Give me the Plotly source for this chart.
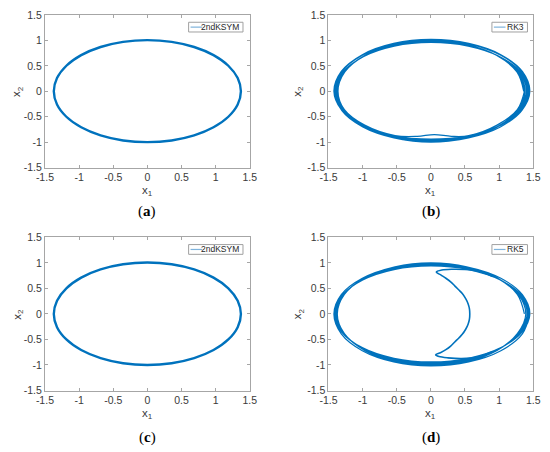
import plotly.graph_objects as go

# ---------------- data ----------------
# (a) / (c): 2ndKSYM closed orbit
ksym_x1 = [1.37, 1.323, 1.186, 0.969, 0.685, 0.355, 0, -0.355, -0.685, -0.969, -1.186, -1.323, -1.37,
           -1.323, -1.186, -0.969, -0.685, -0.355, 0, 0.355, 0.685, 0.969, 1.186, 1.323, 1.37]
ksym_x2 = [0, 0.26, 0.503, 0.712, 0.872, 0.973, 1.007, 0.973, 0.872, 0.712, 0.503, 0.26, 0,
           -0.259, -0.5, -0.707, -0.866, -0.966, -1.0, -0.966, -0.866, -0.707, -0.5, -0.259, 0]

# (b): RK3 drifting orbit (successive loops)
rk3_x1 = [1.36, 1.26, 0.96, 0.52, 0, -0.52, -0.96, -1.26, -1.36, -1.26, -0.96, -0.52, 0, 0.52, 0.96, 1.26,
          1.38, 1.275, 0.976, 0.529, 0, -0.525, -0.969, -1.266, -1.37, -1.266, -0.969, -0.525, 0, 0.529, 0.976, 1.275,
          1.40, 1.294, 0.99, 0.536, 0, -0.529, -0.976, -1.275, -1.38, -1.275, -0.976, -0.529, 0, 0.536, 0.99, 1.294,
          1.415, 1.307, 1.0, 0.542, 0, -0.532, -0.983, -1.284, -1.39, -1.284, -0.983, -0.532, 0, 0.542, 1.0, 1.307,
          1.43, 1.321, 1.011, 0.548, 0, -0.536, -0.99, -1.294, -1.40, -1.294, -0.99, -0.536, 0, 0.548, 1.011, 1.321,
          1.44, 1.331, 1.018, 0.552, 0, -0.54, -0.997, -1.303, -1.41, -1.303, -0.997, -0.54, 0, 0.552, 1.018, 1.331,
          1.45, 1.34, 1.025, 0.555, 0, -0.544, -1.004, -1.312, -1.42, -1.312, -1.004, -0.544, 0, 0.555, 1.025, 1.34,
          1.37, 1.266, 0.969, 0.525, 0, -0.525, -0.969, -1.266, -1.37, -1.266, -0.969, -0.525, -0.2, 0.05, 0.3, 0.55, 0.969, 1.266, 1.37]
rk3_x2 = [0, 0.38, 0.71, 0.92, 1.0, 0.92, 0.71, 0.38, 0, -0.38, -0.71, -0.92, -1.0, -0.92, -0.71, -0.38,
          0, 0.379, 0.70, 0.915, 0.99, 0.915, 0.70, 0.379, 0, -0.375, -0.693, -0.906, -0.98, -0.906, -0.693, -0.375,
          0, 0.375, 0.693, 0.906, 0.98, 0.906, 0.693, 0.375, 0, -0.372, -0.686, -0.896, -0.97, -0.896, -0.686, -0.372,
          0, 0.372, 0.686, 0.896, 0.97, 0.896, 0.686, 0.372, 0, -0.368, -0.679, -0.887, -0.96, -0.887, -0.679, -0.368,
          0, 0.368, 0.679, 0.887, 0.96, 0.887, 0.679, 0.368, 0, -0.364, -0.672, -0.878, -0.95, -0.878, -0.672, -0.364,
          0, 0.387, 0.714, 0.933, 1.01, 0.933, 0.714, 0.387, 0, -0.379, -0.70, -0.915, -0.99, -0.915, -0.70, -0.379,
          0, 0.391, 0.721, 0.942, 1.02, 0.942, 0.721, 0.391, 0, -0.36, -0.665, -0.869, -0.94, -0.869, -0.665, -0.36,
          0, 0.381, 0.703, 0.919, 0.995, 0.919, 0.703, 0.381, 0, -0.36, -0.665, -0.87, -0.885, -0.85, -0.885, -0.875, -0.665, -0.36, 0]

# (d): RK5 drifting orbit (successive loops) plus the crescent excursion
rk5_x1 = [1.37, 1.266, 0.969, 0.525, 0, -0.525, -0.969, -1.266, -1.37, -1.266, -0.969, -0.525, 0, 0.525, 0.969, 1.266,
          1.39, 1.284, 0.983, 0.532, 0, -0.529, -0.976, -1.275, -1.38, -1.275, -0.976, -0.529, 0, 0.532, 0.983, 1.284,
          1.41, 1.303, 0.997, 0.54, 0, -0.532, -0.983, -1.284, -1.39, -1.284, -0.983, -0.532, 0, 0.54, 0.997, 1.303,
          1.425, 1.317, 1.007, 0.546, 0, -0.536, -0.99, -1.294, -1.40, -1.294, -0.99, -0.536, 0, 0.546, 1.007, 1.317,
          1.44, 1.331, 1.018, 0.552, 0, -0.54, -0.997, -1.303, -1.41, -1.303, -0.997, -0.54, 0, 0.552, 1.018, 1.331,
          1.45, 1.34, 1.025, 0.555, 0, -0.544, -1.004, -1.312, -1.42, -1.312, -1.004, -0.544, 0, 0.555, 1.025, 1.34, 1.45]
rk5_x2 = [0, 0.383, 0.707, 0.924, 1.0, 0.924, 0.707, 0.383, 0, -0.387, -0.714, -0.933, -1.01, -0.933, -0.714, -0.387,
          0, 0.377, 0.696, 0.91, 0.985, 0.91, 0.696, 0.377, 0, -0.379, -0.70, -0.915, -0.99, -0.915, -0.70, -0.379,
          0, 0.372, 0.686, 0.896, 0.97, 0.896, 0.686, 0.372, 0, -0.372, -0.686, -0.896, -0.97, -0.896, -0.686, -0.372,
          0, 0.366, 0.675, 0.882, 0.955, 0.882, 0.675, 0.366, 0, -0.366, -0.675, -0.882, -0.955, -0.882, -0.675, -0.366,
          0, 0.36, 0.665, 0.869, 0.94, 0.869, 0.665, 0.36, 0, -0.36, -0.665, -0.869, -0.94, -0.869, -0.665, -0.36,
          0, 0.379, 0.70, 0.915, 0.99, 0.915, 0.70, 0.379, 0, -0.391, -0.721, -0.942, -1.02, -0.942, -0.721, -0.391, 0]
crescent_x1 = [0.9, 0.7, 0.5, 0.3, 0.16, 0.08, 0.15, 0.22, 0.29, 0.35, 0.41, 0.46, 0.51, 0.545, 0.565, 0.57,
               0.565, 0.545, 0.51, 0.46, 0.41, 0.35, 0.29, 0.22, 0.14, 0.07, 0.12, 0.25, 0.45, 0.7, 0.9]
crescent_x2 = [0.74, 0.835, 0.87, 0.875, 0.86, 0.82, 0.76, 0.70, 0.63, 0.55, 0.47, 0.40, 0.30, 0.20, 0.10, 0.0,
               -0.10, -0.20, -0.30, -0.40, -0.47, -0.55, -0.63, -0.70, -0.76, -0.80, -0.835, -0.86, -0.875, -0.84, -0.74]

series_names = ["2ndKSYM", "RK3", "2ndKSYM", "RK5"]
panel_labels = ["a", "b", "c", "d"]
tick_vals = [-1.5, -1, -0.5, 0, 0.5, 1, 1.5]
tick_text = ["-1.5", "-1", "-0.5", "0", "0.5", "1", "1.5"]

# ---------------- layout geometry ----------------
W, H = 550, 452
col_px = [(37, 248), (329, 540)]
row_px = [(9.3, 166), (237.7, 395)]
ylab_px = [9, 298]
BLUE = "#0072BD"
AX_GRAY = "#a6a6a6"
TXT = "#3a3a3a"
FONT = "Liberation Sans, Arial, sans-serif"

fig = go.Figure()

panels = [
    (0, 0, [(ksym_x1, ksym_x2, 2.4, 1.0)]),
    (0, 1, [(rk3_x1, rk3_x2, 1.2, 1.0)]),
    (1, 0, [(ksym_x1, ksym_x2, 2.4, 1.0)]),
    (1, 1, [(rk5_x1, rk5_x2, 1.2, 1.0), (crescent_x1, crescent_x2, 1.6, 0.9)]),
]

for i, (r, c, traces) in enumerate(panels):
    n = i + 1
    xa = "x" if n == 1 else f"x{n}"
    ya = "y" if n == 1 else f"y{n}"
    for xs, ys, lw, sm in traces:
        fig.add_trace(go.Scatter(x=xs, y=ys, mode="lines", xaxis=xa, yaxis=ya,
                                 name=series_names[i], showlegend=False,
                                 line=dict(color=BLUE, width=lw, shape="spline", smoothing=sm),
                                 hoverinfo="skip"))
    x0, x1p = col_px[c]
    y0, y1p = row_px[r]
    xdom = [x0 / W, x1p / W]
    ydom = [1 - y1p / H, 1 - y0 / H]
    axcommon = dict(range=[-1.5, 1.5], tickvals=tick_vals, ticktext=tick_text,
                    ticks="inside", ticklen=3, tickcolor=AX_GRAY, tickwidth=1,
                    showline=True, linecolor=AX_GRAY, linewidth=1, mirror="ticks",
                    showgrid=False, zeroline=False, fixedrange=True,
                    ticklabeloverflow="allow",
                    tickfont=dict(family=FONT, size=10.5, color=TXT))
    fig.layout[f"xaxis{'' if n == 1 else n}"] = dict(axcommon, domain=xdom, anchor=ya)
    fig.layout[f"yaxis{'' if n == 1 else n}"] = dict(axcommon, domain=ydom, anchor=xa)

    # axis titles
    fig.add_annotation(xref="paper", yref="paper", x=(x0 + x1p) / 2 / W, y=1 - (y1p + 24) / H,
                       xanchor="center", yanchor="middle", showarrow=False,
                       text="x<sub>1</sub>", font=dict(family=FONT, size=11.5, color=TXT))
    fig.add_annotation(xref="paper", yref="paper", x=ylab_px[c] / W, y=1 - (y0 + y1p) / 2 / H,
                       xanchor="center", yanchor="middle", showarrow=False, textangle=-90,
                       text="x<sub>2</sub>", font=dict(family=FONT, size=11.5, color=TXT))

    # legend box (drawn in axes-domain coordinates)
    aw = x1p - x0
    ah = y1p - y0
    name = series_names[i]
    box_w = 56 if len(name) > 4 else 36.6
    right = 7 if len(name) > 4 else 6
    bx1 = 1 - right / aw
    bx0 = 1 - (right + box_w) / aw
    by1 = 1 - 7.4 / ah
    by0 = 1 - 17.4 / ah
    fig.add_shape(type="rect", xref=f"{xa} domain", yref=f"{ya} domain",
                  x0=bx0, x1=bx1, y0=by0, y1=by1,
                  line=dict(color="#a0a0a0", width=1), fillcolor="white")
    fig.add_shape(type="line", xref=f"{xa} domain", yref=f"{ya} domain",
                  x0=bx0 + 2 / aw, x1=bx0 + 14 / aw, y0=(by0 + by1) / 2, y1=(by0 + by1) / 2,
                  line=dict(color="#7fb3dc", width=1.2))
    fig.add_annotation(xref=f"{xa} domain", yref=f"{ya} domain",
                       x=bx1 - 2 / aw, y=(by0 + by1) / 2, xanchor="right", yanchor="middle",
                       text=name, showarrow=False,
                       font=dict(family=FONT, size=8.5, color="#262626"))
    # panel caption
    fig.add_annotation(xref="paper", yref="paper",
                       x=(x0 + x1p) / 2 / W, y=1 - (211 if r == 0 else 443) / H,
                       xanchor="center", yanchor="middle",
                       text=f"(<b>{panel_labels[i]}</b>)", showarrow=False,
                       font=dict(family="Liberation Serif, Times New Roman, serif", size=15, color="#000000"))

fig.update_layout(width=W, height=H, margin=dict(l=0, r=0, t=0, b=0),
                  paper_bgcolor="white", plot_bgcolor="white", showlegend=False)

fig.write_html("out.html", config={"displayModeBar": False},
               post_script="document.body.style.margin='0';document.body.style.overflow='hidden';")
